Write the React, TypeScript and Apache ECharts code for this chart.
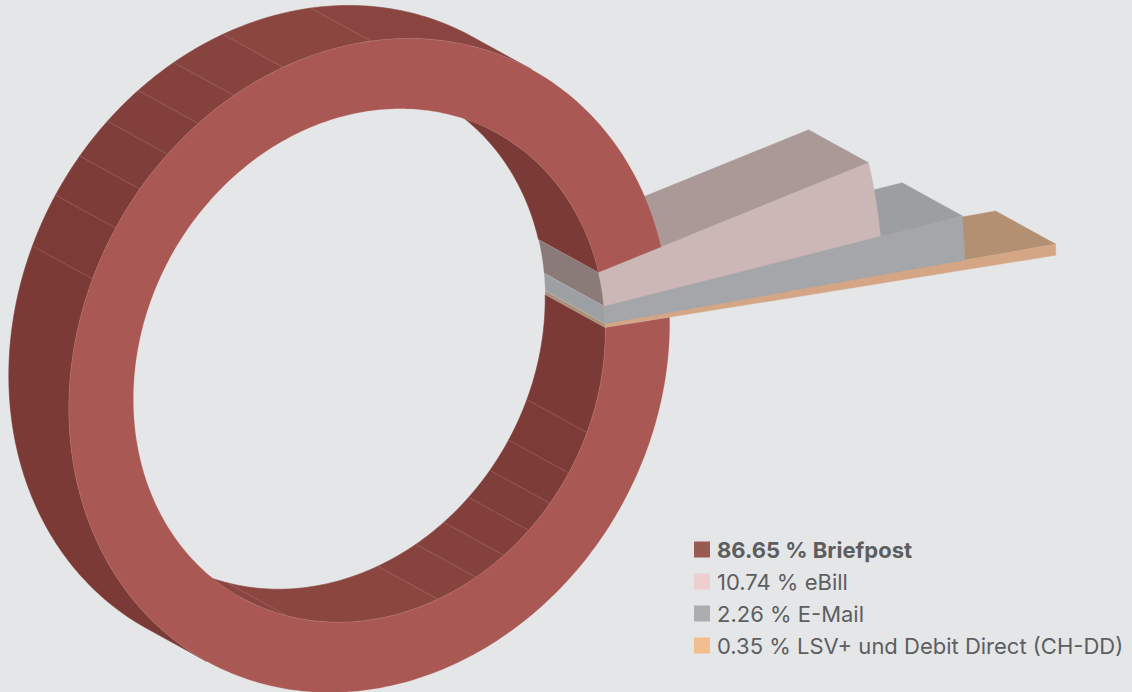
import React, { useEffect, useRef } from "react";
import * as echarts from "echarts";

const categories = ["Briefpost", "eBill", "E-Mail", "LSV+ und Debit Direct (CH-DD)"];
const shares = [86.65, 10.74, 2.26, 0.35];
const legendLabels = shares.map((v, i) => `${v.toFixed(2)} % ${categories[i]}`);

// Drawn look of the slices: the reference does not use proportional angles.
const sweepDegrees = [347.23, 7.9, 4.0, 0.87];
const outerScale = [1, 1.71, 1.983, 2.285];
const faceColors = ["#aa5854", "#cab7b6", "#a4a6a9", "#d4a685"];
const sideColors = ["#7b3a36", "#aa9997", "#9c9ea1", "#b29071"];
const holeColors = ["#7b3a36", "#8a7a78", "#9ca0a3", "#a9907a"];
const swatchColors = ["#985b52", "#edcfcf", "#acadaf", "#f3bd92"];

const outerFacets = [122.7, 202.9, 212.4, 220.2, 227.8, 235.3, 243.2, 253.3, 270.3, 302.7];
const innerFacets = [-57.3, 22.7, 32.3, 40, 47.5, 55.2, 63.1, 73.1, 110.4, 122.7];
const facetColors = ["#7b3a36", "#7c3b37", "#7e3c38", "#803e3a", "#823f3b", "#85413c", "#87433e", "#8b4640", "#8a4540"];

const START = -0.93;
const CX = 369.3;
const CY = 365.5;
const AX = 300.5;
const AY = -43;
const BY = 324.2;
const DX = -60;
const DY = -33;
const HOLE = 0.785;

const rad = (d: number) => (d * Math.PI) / 180;
const pt = (deg: number, r: number, back = false): number[] => {
  const c = Math.cos(rad(deg));
  const s = Math.sin(rad(deg));
  return [CX + r * AX * c + (back ? DX : 0), CY + r * (AY * c + BY * s) + (back ? DY : 0)];
};
const arc = (a: number, b: number, r: number, back = false): number[][] => {
  const n = Math.max(1, Math.ceil(Math.abs(b - a)));
  const out: number[][] = [];
  for (let i = 0; i <= n; i++) out.push(pt(a + ((b - a) * i) / n, r, back));
  return out;
};
const sliceStart = (i: number) => {
  let a = START;
  for (let k = 0; k < i; k++) a += sweepDegrees[k];
  return a;
};
const band = (a: number, b: number, r: number, fill: string, stroke?: string, lw = 0.6) => ({
  type: "polygon",
  shape: { points: [...arc(a, b, r), ...arc(b, a, r, true)] },
  style: { fill, stroke: stroke || fill, lineWidth: lw },
});
const seam = (deg: number, r: number) => ({
  type: "line",
  shape: {
    x1: pt(deg, r)[0],
    y1: pt(deg, r)[1],
    x2: pt(deg, r, true)[0],
    y2: pt(deg, r, true)[1],
  },
  style: { stroke: "rgba(205,160,155,0.45)", lineWidth: 0.5, fill: "none" },
});

// The sides are painted from the last slice to the first, so each covers the next one's side.
const renderSides = (params: any) => {
  const i = shares.length - 1 - params.dataIndex;
  if (i === 0) return { type: "group", children: [] };
  const a = sliceStart(i);
  return {
    type: "polygon",
    shape: {
      points: [pt(a, HOLE), pt(a, outerScale[i]), pt(a, outerScale[i], true), pt(a, HOLE, true)],
    },
    style: { fill: sideColors[i], stroke: sideColors[i], lineWidth: 0.4 },
  };
};

const renderWalls = (params: any) => {
  const i = params.dataIndex;
  const children: any[] = [];
  if (i === 0) {
    for (let k = 0; k < outerFacets.length - 1; k++) {
      children.push(band(outerFacets[k], outerFacets[k + 1], 1, facetColors[k]));
    }
    for (let k = 1; k < outerFacets.length - 1; k++) children.push(seam(outerFacets[k], 1));
    const mainEnd = START + sweepDegrees[0] - 360;
    children.push(band(innerFacets[0], mainEnd, HOLE, facetColors[0]));
    for (let k = 0; k < innerFacets.length - 1; k++) {
      const from = Math.max(innerFacets[k], START);
      children.push(band(from, innerFacets[k + 1], HOLE, facetColors[k]));
    }
    for (let k = 1; k < innerFacets.length - 1; k++) children.push(seam(innerFacets[k], HOLE));
  } else {
    const a = sliceStart(i);
    const b = a + sweepDegrees[i];
    children.push(band(a, b, HOLE, holeColors[i], "rgba(225,225,225,0.45)", 0.5));
  }
  return { type: "group", children };
};

const renderFace = (index: number) => () => {
  const a = sliceStart(index);
  const b = a + sweepDegrees[index];
  return {
    type: "polygon",
    shape: { points: [...arc(a, b, outerScale[index]), ...arc(b, a, HOLE)] },
    style:
      index === 0
        ? { fill: faceColors[0], stroke: "rgba(225,190,185,0.35)", lineWidth: 0.5 }
        : { fill: faceColors[index], stroke: faceColors[index], lineWidth: 0.3 },
  };
};

export default function App() {
  const ref = useRef<HTMLDivElement>(null);
  useEffect(() => {
    const chart = echarts.init(ref.current!, null, { renderer: "svg" });
    const values = shares.map((v) => [v]);
    chart.setOption({
      animation: false,
      backgroundColor: "#e5e6e8",
      legend: {
        orient: "vertical",
        left: 689,
        top: 533,
        itemWidth: 16,
        itemHeight: 16,
        itemGap: 9,
        selectedMode: false,
        icon: "rect",
        textStyle: {
          fontFamily: "Inter",
          fontSize: 22,
          color: "#5d5e60",
          lineHeight: 23,
          padding: [0, 0, 0, 2],
        },
        data: legendLabels.map((name, i) => ({
          name,
          icon: "rect",
          itemStyle: { color: swatchColors[i] },
          textStyle: { fontWeight: i === 0 ? "bold" : "normal" },
        })),
      },
      series: [
        { type: "custom", name: "sides", coordinateSystem: "none", silent: true, data: values, renderItem: renderSides },
        { type: "custom", name: "walls", coordinateSystem: "none", silent: true, data: values, renderItem: renderWalls },
        ...legendLabels
          .map((name, i) => ({
            type: "custom",
            name,
            coordinateSystem: "none",
            silent: true,
            data: [values[i]],
            renderItem: renderFace(i),
          }))
          .reverse(),
      ],
    });
    return () => chart.dispose();
  }, []);
  return (
    <div
      ref={ref}
      style={{ position: "fixed", left: 0, top: 0, width: 1132, height: 692 }}
    />
  );
}
